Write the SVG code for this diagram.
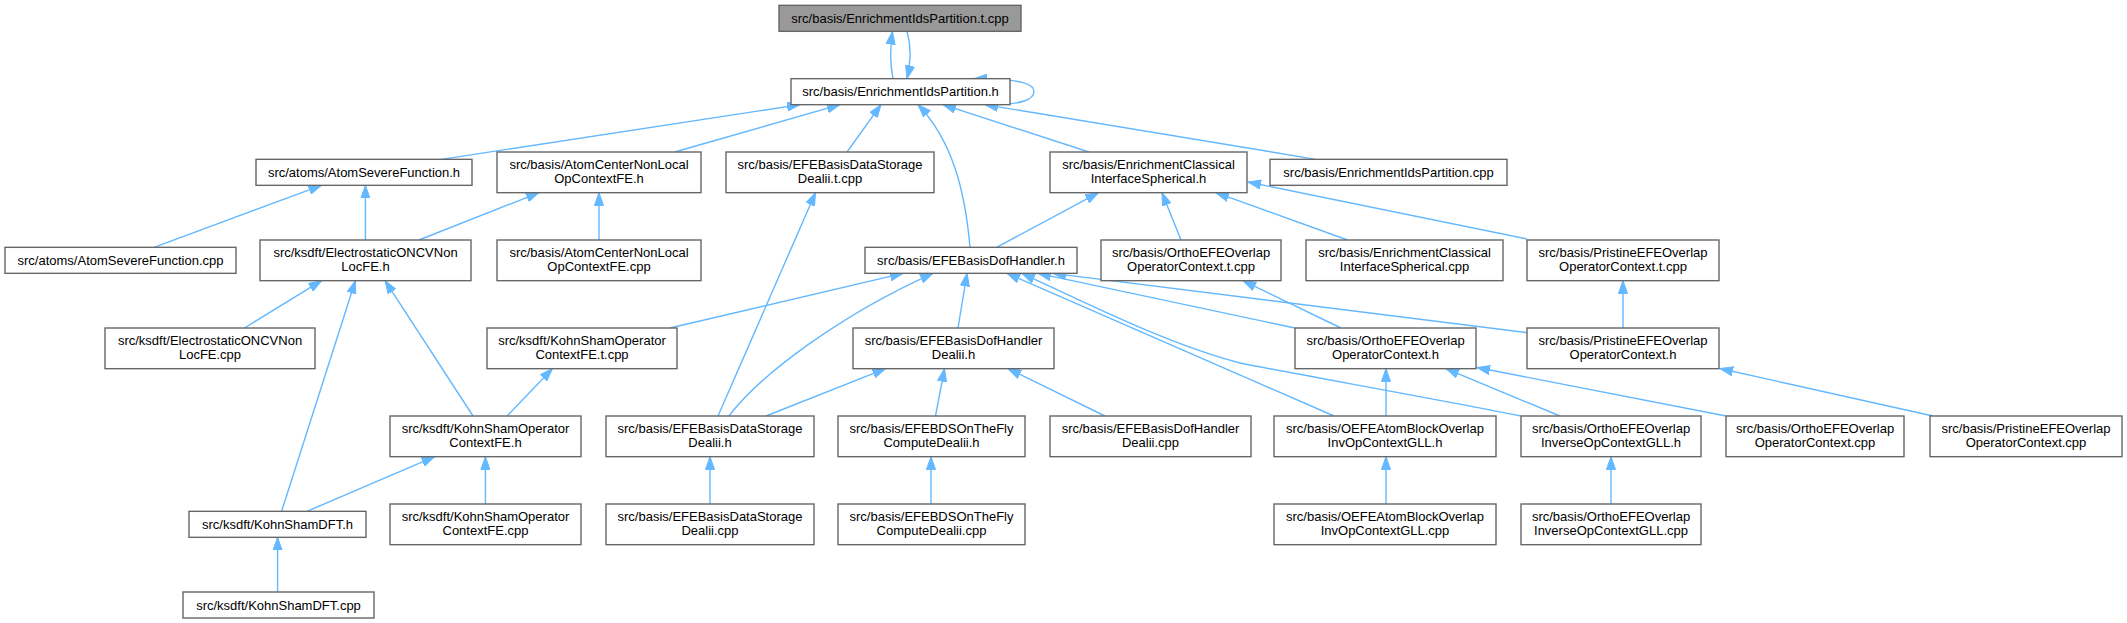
<svg xmlns="http://www.w3.org/2000/svg" width="2127" height="623" viewBox="0 0 2127 623">
<style>
.n rect{fill:#ffffff;stroke:#666666;stroke-width:1.4}
.n.r rect{fill:#999999}
.n text{font-family:"Liberation Sans",Arial,Helvetica,sans-serif;font-size:13px;fill:#000000;text-anchor:middle}
.e path{fill:none;stroke:#63b8ff;stroke-width:1.4;marker-end:url(#ah)}
</style>
<defs>
<marker id="ah" markerWidth="14" markerHeight="10" refX="13" refY="5" orient="auto" markerUnits="userSpaceOnUse">
<path d="M0,0.4 L13,5 L0,9.6 z" fill="#63b8ff" stroke="#63b8ff" stroke-width="1"/>
</marker>
</defs>
<rect x="0" y="0" width="2127" height="623" fill="#ffffff"/>
<g id="edges" class="e">
<path d="M893,78.67 C890,64 890,48 892.5,31.5"/>
<path d="M907,31.33 C911,45 911,62 907,78.5"/>
<path d="M991,104.5 C1022,105 1034,99 1034,91.5 C1034,84 1022,79 974,78.67"/>
<path d="M441.5,159.33 L800,104.67"/>
<path d="M674.7,152 L840,104.67"/>
<path d="M847,152 L881,104.67"/>
<path d="M970,247.33 C965,190 952,140 918,104.67"/>
<path d="M1089,152 L943,104.67"/>
<path d="M1316,159.33 L985,104.67"/>
<path d="M154,247.33 L321.5,185.33"/>
<path d="M365.4,240 L365.4,185.33"/>
<path d="M419,240 L539,192.67"/>
<path d="M599,240 L599,192.67"/>
<path d="M718,416 L815.5,192.67"/>
<path d="M996.6,247.33 L1098.5,192.67"/>
<path d="M1181,240 L1162,192.67"/>
<path d="M1347.5,240 L1216,192.67"/>
<path d="M1527,239 L1248,182"/>
<path d="M244.5,328 L321.5,280.67"/>
<path d="M281.6,511.33 L355.4,280.67"/>
<path d="M473,416 L385,280.67"/>
<path d="M670,328 L903,273.33"/>
<path d="M729,416 C760,375 840,315 933,273.33"/>
<path d="M958,328 L967,273.33"/>
<path d="M1334,416 L1007,273.33"/>
<path d="M1521,416 C1420,396 1300,375 1240,363 C1170,345 1090,305 1022,273.33"/>
<path d="M1295,328 L1038,273.33"/>
<path d="M1527,332.7 L1053,273.33"/>
<path d="M1341,328 L1243,280.67"/>
<path d="M1623,328 L1623,280.67"/>
<path d="M766,416 L885.6,368.67"/>
<path d="M935.5,416 L944.5,368.67"/>
<path d="M1105,416 L1008,368.67"/>
<path d="M507,416 L552.4,368.67"/>
<path d="M1386,416 L1386,368.67"/>
<path d="M1560,416 L1446,368.67"/>
<path d="M1726,416 L1477,367.5"/>
<path d="M1933,416 L1720,368.5"/>
<path d="M307,511.33 L434.7,456.67"/>
<path d="M485.4,504 L485.4,456.67"/>
<path d="M710,504 L710,456.67"/>
<path d="M931,504 L931,456.67"/>
<path d="M1386,504 L1386,456.67"/>
<path d="M1611,504 L1611,456.67"/>
<path d="M277.6,592 L277.6,537.33"/>
</g>
<g id="n0" class="n r"><rect x="779" y="5.33" width="242" height="26"/><text x="900" y="23">src/basis/EnrichmentIdsPartition.t.cpp</text></g>
<g id="n1" class="n"><rect x="791" y="78.67" width="219" height="26"/><text x="900.5" y="96.3">src/basis/EnrichmentIdsPartition.h</text></g>
<g id="n2" class="n"><rect x="256" y="159.33" width="216" height="26"/><text x="364" y="177">src/atoms/AtomSevereFunction.h</text></g>
<g id="n3" class="n"><rect x="497" y="152" width="204" height="40.67"/><text x="599" y="168.7">src/basis/AtomCenterNonLocal</text><text x="599" y="183.3">OpContextFE.h</text></g>
<g id="n4" class="n"><rect x="726" y="152" width="208" height="40.67"/><text x="830" y="168.7">src/basis/EFEBasisDataStorage</text><text x="830" y="183.3">Dealii.t.cpp</text></g>
<g id="n5" class="n"><rect x="1050" y="152" width="197" height="40.67"/><text x="1148.5" y="168.7">src/basis/EnrichmentClassical</text><text x="1148.5" y="183.3">InterfaceSpherical.h</text></g>
<g id="n6" class="n"><rect x="1270" y="159.33" width="237" height="26"/><text x="1388.5" y="177">src/basis/EnrichmentIdsPartition.cpp</text></g>
<g id="n7" class="n"><rect x="5" y="247.33" width="231" height="26"/><text x="120.5" y="265">src/atoms/AtomSevereFunction.cpp</text></g>
<g id="n8" class="n"><rect x="260" y="240" width="211" height="40.67"/><text x="365.5" y="256.7">src/ksdft/ElectrostaticONCVNon</text><text x="365.5" y="271.3">LocFE.h</text></g>
<g id="n9" class="n"><rect x="497" y="240" width="204" height="40.67"/><text x="599" y="256.7">src/basis/AtomCenterNonLocal</text><text x="599" y="271.3">OpContextFE.cpp</text></g>
<g id="n10" class="n"><rect x="865" y="247.33" width="212" height="26"/><text x="971" y="265">src/basis/EFEBasisDofHandler.h</text></g>
<g id="n11" class="n"><rect x="1101" y="240" width="180" height="40.67"/><text x="1191" y="256.7">src/basis/OrthoEFEOverlap</text><text x="1191" y="271.3">OperatorContext.t.cpp</text></g>
<g id="n12" class="n"><rect x="1306" y="240" width="197" height="40.67"/><text x="1404.5" y="256.7">src/basis/EnrichmentClassical</text><text x="1404.5" y="271.3">InterfaceSpherical.cpp</text></g>
<g id="n13" class="n"><rect x="1527" y="240" width="192" height="40.67"/><text x="1623" y="256.7">src/basis/PristineEFEOverlap</text><text x="1623" y="271.3">OperatorContext.t.cpp</text></g>
<g id="n14" class="n"><rect x="105" y="328" width="210" height="40.67"/><text x="210" y="344.7">src/ksdft/ElectrostaticONCVNon</text><text x="210" y="359.3">LocFE.cpp</text></g>
<g id="n15" class="n"><rect x="487" y="328" width="190" height="40.67"/><text x="582" y="344.7">src/ksdft/KohnShamOperator</text><text x="582" y="359.3">ContextFE.t.cpp</text></g>
<g id="n16" class="n"><rect x="853" y="328" width="201" height="40.67"/><text x="953.5" y="344.7">src/basis/EFEBasisDofHandler</text><text x="953.5" y="359.3">Dealii.h</text></g>
<g id="n17" class="n"><rect x="1295" y="328" width="181" height="40.67"/><text x="1385.5" y="344.7">src/basis/OrthoEFEOverlap</text><text x="1385.5" y="359.3">OperatorContext.h</text></g>
<g id="n18" class="n"><rect x="1527" y="328" width="192" height="40.67"/><text x="1623" y="344.7">src/basis/PristineEFEOverlap</text><text x="1623" y="359.3">OperatorContext.h</text></g>
<g id="n19" class="n"><rect x="390" y="416" width="191" height="40.67"/><text x="485.5" y="432.7">src/ksdft/KohnShamOperator</text><text x="485.5" y="447.3">ContextFE.h</text></g>
<g id="n20" class="n"><rect x="606" y="416" width="208" height="40.67"/><text x="710" y="432.7">src/basis/EFEBasisDataStorage</text><text x="710" y="447.3">Dealii.h</text></g>
<g id="n21" class="n"><rect x="838" y="416" width="187" height="40.67"/><text x="931.5" y="432.7">src/basis/EFEBDSOnTheFly</text><text x="931.5" y="447.3">ComputeDealii.h</text></g>
<g id="n22" class="n"><rect x="1050" y="416" width="201" height="40.67"/><text x="1150.5" y="432.7">src/basis/EFEBasisDofHandler</text><text x="1150.5" y="447.3">Dealii.cpp</text></g>
<g id="n23" class="n"><rect x="1274" y="416" width="222" height="40.67"/><text x="1385" y="432.7">src/basis/OEFEAtomBlockOverlap</text><text x="1385" y="447.3">InvOpContextGLL.h</text></g>
<g id="n24" class="n"><rect x="1521" y="416" width="180" height="40.67"/><text x="1611" y="432.7">src/basis/OrthoEFEOverlap</text><text x="1611" y="447.3">InverseOpContextGLL.h</text></g>
<g id="n25" class="n"><rect x="1726" y="416" width="178" height="40.67"/><text x="1815" y="432.7">src/basis/OrthoEFEOverlap</text><text x="1815" y="447.3">OperatorContext.cpp</text></g>
<g id="n26" class="n"><rect x="1930" y="416" width="192" height="40.67"/><text x="2026" y="432.7">src/basis/PristineEFEOverlap</text><text x="2026" y="447.3">OperatorContext.cpp</text></g>
<g id="n27" class="n"><rect x="189" y="511.33" width="177" height="26"/><text x="277.5" y="529">src/ksdft/KohnShamDFT.h</text></g>
<g id="n28" class="n"><rect x="390" y="504" width="191" height="40.67"/><text x="485.5" y="520.7">src/ksdft/KohnShamOperator</text><text x="485.5" y="535.3">ContextFE.cpp</text></g>
<g id="n29" class="n"><rect x="606" y="504" width="208" height="40.67"/><text x="710" y="520.7">src/basis/EFEBasisDataStorage</text><text x="710" y="535.3">Dealii.cpp</text></g>
<g id="n30" class="n"><rect x="838" y="504" width="187" height="40.67"/><text x="931.5" y="520.7">src/basis/EFEBDSOnTheFly</text><text x="931.5" y="535.3">ComputeDealii.cpp</text></g>
<g id="n31" class="n"><rect x="1274" y="504" width="222" height="40.67"/><text x="1385" y="520.7">src/basis/OEFEAtomBlockOverlap</text><text x="1385" y="535.3">InvOpContextGLL.cpp</text></g>
<g id="n32" class="n"><rect x="1521" y="504" width="180" height="40.67"/><text x="1611" y="520.7">src/basis/OrthoEFEOverlap</text><text x="1611" y="535.3">InverseOpContextGLL.cpp</text></g>
<g id="n33" class="n"><rect x="183" y="592" width="191" height="26"/><text x="278.5" y="609.7">src/ksdft/KohnShamDFT.cpp</text></g>
</svg>
